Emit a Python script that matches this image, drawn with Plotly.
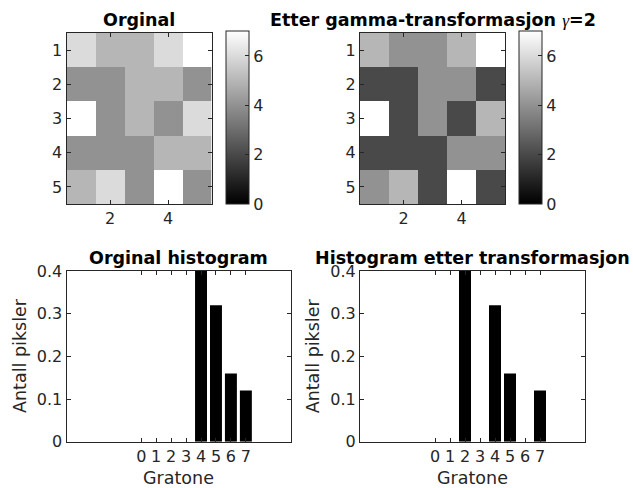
import plotly.graph_objects as go

# ---- data ----
original_img = [
    [6, 5, 5, 6, 7],
    [4, 4, 5, 5, 4],
    [7, 4, 5, 4, 6],
    [4, 4, 4, 5, 5],
    [5, 6, 4, 7, 4],
]
gamma_img = [
    [5, 4, 4, 5, 7],
    [2, 2, 4, 4, 2],
    [7, 2, 4, 2, 5],
    [2, 2, 2, 4, 4],
    [4, 5, 2, 7, 2],
]
pix_idx = [1, 2, 3, 4, 5]
grey_levels = [0, 1, 2, 3, 4, 5, 6, 7]
hist_original = [0, 0, 0, 0, 0.40, 0.32, 0.16, 0.12]
hist_gamma = [0, 0, 0.40, 0, 0.32, 0.16, 0, 0.12]
cbar_ticks = [0, 2, 4, 6]
hist_yticks = [0, 0.1, 0.2, 0.3, 0.4]
hist_yticktext = ['0', '0.1', '0.2', '0.3', '0.4']

W, H = 633, 488
def px(x):
    return x / W
def py(y):
    return 1 - y / H

AX = '#262626'
FONT = 'DejaVu Sans'
TICKSZ = 16
LABSZ = 17.5

gray = [[0, 'black'], [1, 'white']]

fig = go.Figure()

# heatmap panels
heat_dom_y = [py(204), py(33)]
heat_x = [[px(66.5), px(211.5)], [px(360), px(505)]]
cb_x = [px(226), px(519.3)]
for i, img in enumerate([original_img, gamma_img]):
    fig.add_trace(go.Heatmap(
        z=img, x=pix_idx, y=pix_idx, zmin=0, zmax=7, colorscale=gray,
        xaxis='x' if i == 0 else 'x2', yaxis='y' if i == 0 else 'y2',
        colorbar=dict(
            x=cb_x[i], xanchor='left', xpad=0, ypad=0, thickness=23,
            len=(204 - 31.5) / H, lenmode='fraction', y=py((31.5 + 204) / 2), yanchor='middle',
            outlinecolor=AX, outlinewidth=1, tickvals=cbar_ticks, ticks='inside',
            ticklen=4, tickcolor=AX, tickfont=dict(family=FONT, size=TICKSZ, color=AX)),
    ))

# histogram panels
for i, vals in enumerate([hist_original, hist_gamma]):
    fig.add_trace(go.Bar(
        x=grey_levels, y=vals, width=0.8, marker=dict(color='black', line=dict(width=0)),
        xaxis='x3' if i == 0 else 'x4', yaxis='y3' if i == 0 else 'y4', showlegend=False,
    ))

def axstyle(**kw):
    d = dict(showline=True, linecolor=AX, linewidth=1, mirror='allticks', ticks='inside',
             ticklen=4, tickcolor=AX, tickfont=dict(family=FONT, size=TICKSZ, color=AX),
             showgrid=False, zeroline=False, fixedrange=True)
    d.update(kw)
    return d

hist_x = [[px(66.5), px(290.7)], [px(360), px(585)]]
hist_dom_y = [py(441.7), py(271)]

fig.update_layout(
    width=W, height=H, margin=dict(l=0, r=0, t=0, b=0, autoexpand=False),
    paper_bgcolor='white', plot_bgcolor='white', showlegend=False,
    font=dict(family=FONT, color=AX),
    xaxis=axstyle(domain=heat_x[0], anchor='y', range=[0.5, 5.5], tickvals=[2, 4]),
    yaxis=axstyle(domain=heat_dom_y, anchor='x', range=[5.5, 0.5], tickvals=pix_idx),
    xaxis2=axstyle(domain=heat_x[1], anchor='y2', range=[0.5, 5.5], tickvals=[2, 4]),
    yaxis2=axstyle(domain=heat_dom_y, anchor='x2', range=[5.5, 0.5], tickvals=pix_idx),
    xaxis3=axstyle(domain=hist_x[0], anchor='y3', range=[-5, 10], tickvals=grey_levels),
    yaxis3=axstyle(domain=hist_dom_y, anchor='x3', range=[0, 0.4], tickvals=hist_yticks,
                   ticktext=hist_yticktext),
    xaxis4=axstyle(domain=hist_x[1], anchor='y4', range=[-5, 10], tickvals=grey_levels),
    yaxis4=axstyle(domain=hist_dom_y, anchor='x4', range=[0, 0.4], tickvals=hist_yticks,
                   ticktext=hist_yticktext),
)

titles = [
    ('Orginal', (66.5 + 211.5) / 2, 20),
    ('Etter gamma-transformasjon <span style="font-family:\'Liberation Serif\';font-weight:normal"><i>γ</i></span>=2',
     (360 + 505) / 2, 20),
    ('Orginal histogram', (66.5 + 290.7) / 2, 258),
    ('Histogram etter transformasjon', (360 + 585) / 2, 258),
]
for t, x, y in titles:
    fig.add_annotation(text=t, x=px(x), y=py(y), xref='paper', yref='paper',
                       xanchor='center', yanchor='middle', showarrow=False,
                       font=dict(family=FONT, size=LABSZ, color='black', weight='bold'))

for cx in [(66.5 + 290.7) / 2, (360 + 585) / 2]:
    fig.add_annotation(text='Gratone', x=px(cx), y=py(478), xref='paper', yref='paper',
                       xanchor='center', yanchor='middle', showarrow=False,
                       font=dict(family=FONT, size=LABSZ, color=AX))
for cx in [20, 313.3]:
    fig.add_annotation(text='Antall piksler', x=px(cx), y=py(356), xref='paper', yref='paper',
                       xanchor='center', yanchor='middle', showarrow=False, textangle=-90,
                       font=dict(family=FONT, size=LABSZ, color=AX))

fig.write_html('out.html')
